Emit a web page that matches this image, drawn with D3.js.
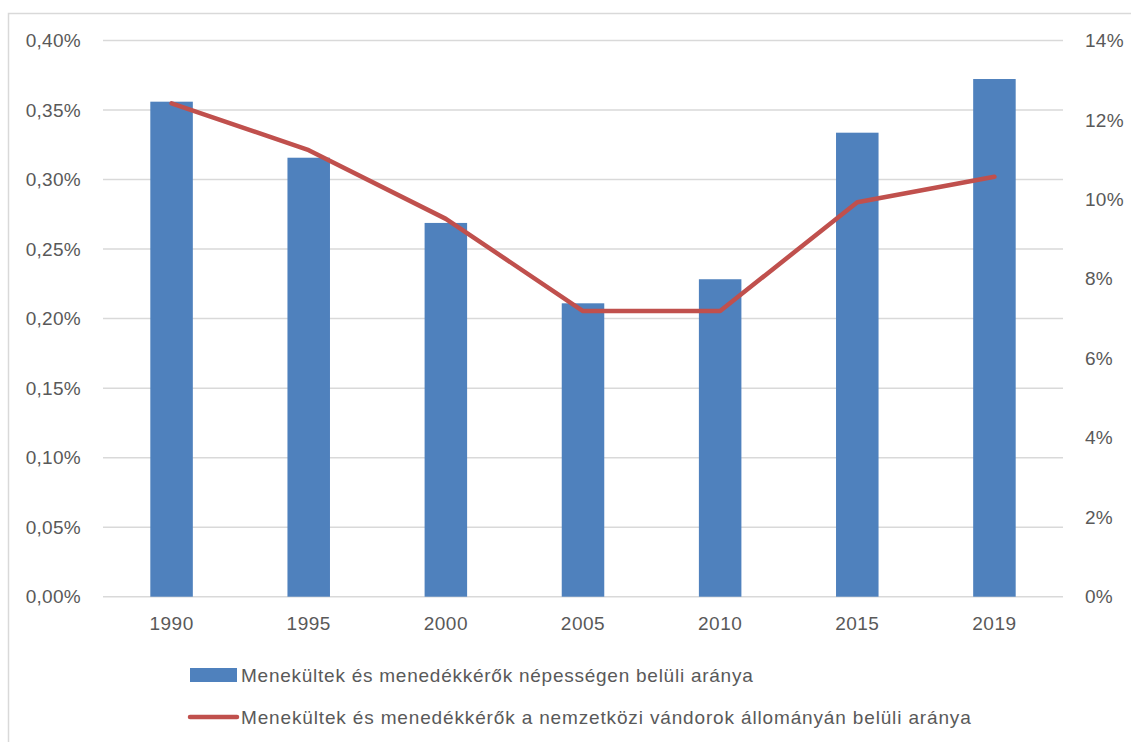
<!DOCTYPE html>
<html><head><meta charset="utf-8">
<script src="https://cdn.jsdelivr.net/npm/d3@7"></script>
<style>body{margin:0;background:#fff;}svg{display:block;}text{font-family:"Liberation Sans",Arial,sans-serif;fill:#595959;}</style>
</head><body>
<script>
const years = ["1990","1995","2000","2005","2010","2015","2019"];
const popShare = [0.3560,0.3157,0.2688,0.2110,0.2283,0.3337,0.3723];   // % of population
const migrantShare = [12.42,11.24,9.51,7.19,7.19,9.93,10.57];           // % of international migrant stock
const leftTicks = [0,0.05,0.10,0.15,0.20,0.25,0.30,0.35,0.40];
const rightTicks = [0,2,4,6,8,10,12,14];
const seriesNames = ["Menekültek és menedékkérők népességen belüli aránya",
                     "Menekültek és menedékkérők a nemzetközi vándorok állományán belüli aránya"];

const W=1131,H=742;
const svg=d3.select("body").append("svg").attr("width",W).attr("height",H);
// outer chart border
svg.append("rect").attr("x",8.5).attr("y",13.5).attr("width",1130).attr("height",740)
  .attr("fill","none").attr("stroke","#d9d9d9").attr("stroke-width",1.5);

const L=103,R=1063,T=40.5,B=596.7;
const x=d3.scaleBand().domain(years).range([L,R]).paddingInner(0.69).paddingOuter(0.345);
const yL=d3.scaleLinear().domain([0,0.40]).range([B,T]);
const yR=d3.scaleLinear().domain([0,14]).range([B,T]);
const fmtL=d=>d.toFixed(2).replace(".",",")+"%";

// gridlines
svg.append("g").selectAll("line").data(leftTicks).join("line")
  .attr("x1",L).attr("x2",R).attr("y1",d=>yL(d)).attr("y2",d=>yL(d))
  .attr("stroke","#d9d9d9").attr("stroke-width",1.5);

// left axis
const gL=svg.append("g").attr("transform",`translate(${L},0)`)
  .call(d3.axisLeft(yL).tickValues(leftTicks).tickFormat(fmtL).tickSize(0).tickPadding(22));
gL.select(".domain").remove();
gL.selectAll("text").style("font-size","19px").style("letter-spacing","0.3px").attr("fill","#595959");

// right axis
const gR=svg.append("g").attr("transform",`translate(${R},0)`)
  .call(d3.axisRight(yR).tickValues(rightTicks).tickFormat(d=>d+"%").tickSize(0).tickPadding(22));
gR.select(".domain").remove();
gR.selectAll("text").style("font-size","19px").style("letter-spacing","0.3px").attr("fill","#595959");

// bottom axis
const gB=svg.append("g").attr("transform",`translate(0,${B})`)
  .call(d3.axisBottom(x).tickSize(0).tickPadding(20));
gB.select(".domain").remove();
gB.selectAll("text").style("font-size","19px").style("letter-spacing","0.5px").attr("fill","#595959");

// bars
svg.append("g").selectAll("rect").data(years).join("rect")
  .attr("x",d=>x(d)).attr("width",x.bandwidth())
  .attr("y",(d,i)=>yL(popShare[i])).attr("height",(d,i)=>B-yL(popShare[i]))
  .attr("fill","#4f81bd");

// line
const line=d3.line().x((d,i)=>x(years[i])+x.bandwidth()/2).y(d=>yR(d));
svg.append("path").datum(migrantShare).attr("d",line)
  .attr("fill","none").attr("stroke","#c0504d").attr("stroke-width",4.5)
  .attr("stroke-linejoin","round").attr("stroke-linecap","round");

// legend
const lg=svg.append("g");
lg.append("rect").attr("x",190).attr("y",668).attr("width",47).attr("height",14).attr("fill","#4f81bd");
lg.append("text").attr("x",241).attr("y",675).attr("dy","0.35em").style("font-size","19px").style("letter-spacing","0.75px").text(seriesNames[0]);
lg.append("line").attr("x1",190).attr("x2",237).attr("y1",717).attr("y2",717)
  .attr("stroke","#c0504d").attr("stroke-width",4.5).attr("stroke-linecap","round");
lg.append("text").attr("x",241).attr("y",717).attr("dy","0.35em").style("font-size","19px").style("letter-spacing","0.85px").text(seriesNames[1]);
</script>
</body></html>
